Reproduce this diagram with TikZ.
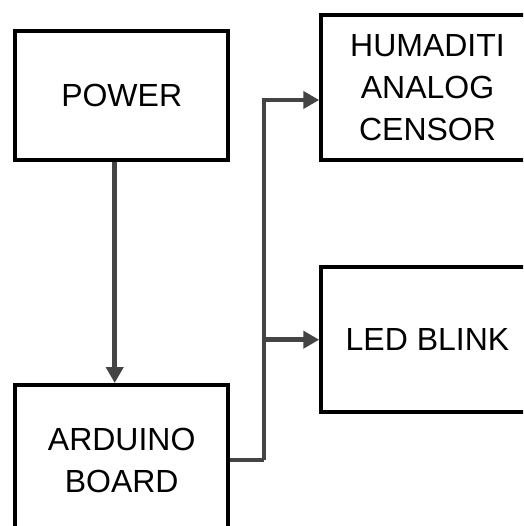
\documentclass[tikz,border=0pt]{standalone}
\usepackage{fontspec}
\setmainfont{Liberation Sans}
\usepackage{xcolor}
\usepackage{tikz}
\usetikzlibrary{arrows.meta, positioning, calc}
\definecolor{wiregray}{RGB}{68, 68, 68}
\tikzstyle{block} = [
    rectangle, 
    minimum width=212.5pt, 
    minimum height=144.7pt, 
    text centered, 
    align=center,
    draw=black, 
    line width=4pt,
    fill=white,
    font=\fontsize{32}{42}\selectfont
]
\tikzstyle{arrow} = [
    line width=4.5pt, 
    -{Triangle[length=16pt, width=17pt]}, 
    color=wiregray
]

\begin{document}
\begin{tikzpicture}[x=1pt, y=-1pt]
        \clip (0, 0) rectangle (523, 526);
        \fill[white] (0, 0) rectangle (523, 526);
        % Blocks
        \node[block, minimum height=128.4pt] (power) at (121.7, 95.5) {POWER};
        \node[block, minimum height=150pt] (arduino) at (121.7, 460) {ARDUINO\\BOARD};
        \node[block] (humidity) at (427.5, 87.3) {HUMADITI\\ANALOG\\CENSOR};
        \node[block] (led) at (427.5, 339.7) {LED BLINK};
        \coordinate (bus) at (264, 460);
        
        % Arrows
        \draw[arrow] ([xshift=-7pt]power.south) -- ([xshift=-7pt]arduino.north);
        \draw[arrow, -] (arduino.east) -- (bus);
        \draw[arrow] (bus) |- ([yshift=-12.7pt]humidity.west);
        \draw[arrow] (bus |- led.west) -- (led.west);
    \end{tikzpicture}
\end{document}
